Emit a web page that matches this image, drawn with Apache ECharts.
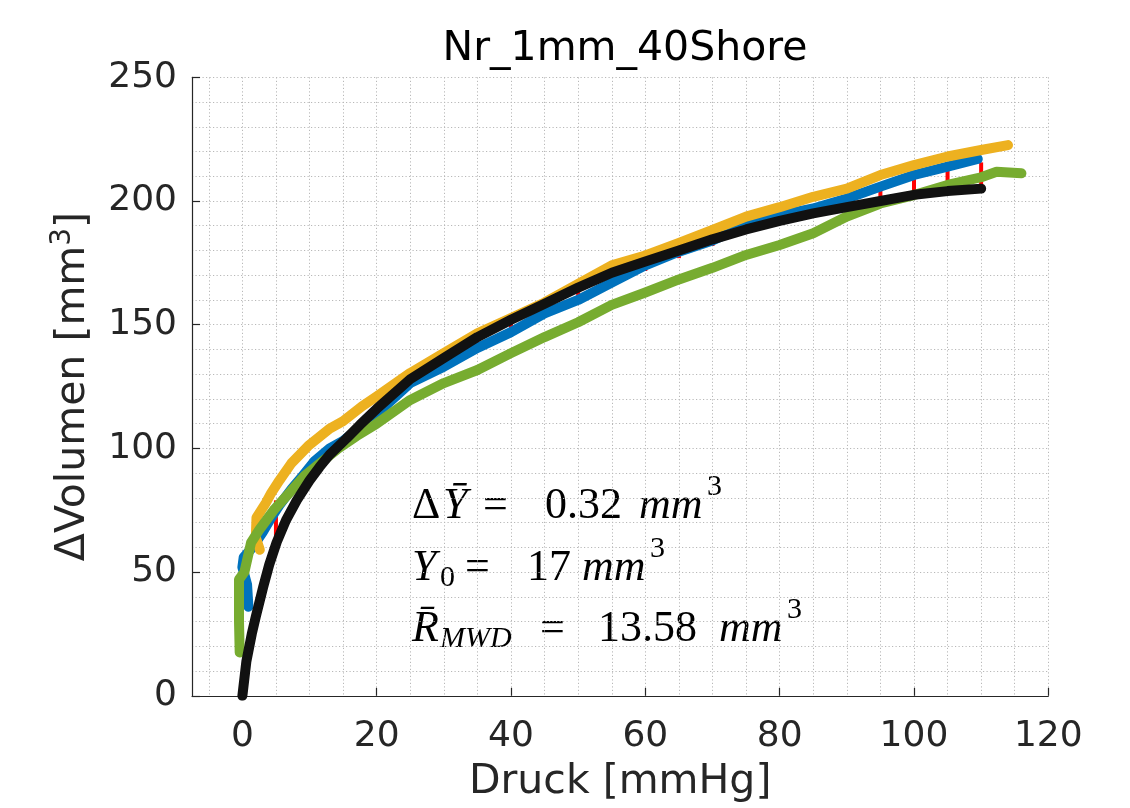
<!DOCTYPE html>
<html><head><meta charset="utf-8">
<script src="https://cdn.jsdelivr.net/npm/echarts@6/dist/echarts.min.js"></script>
<style>html,body{margin:0;padding:0;background:#fff}#c{width:1130px;height:808px}</style>
</head><body><div id="c"></div>
<script>
// ---- data ----
const blueX = [0.9,0.7,0,0.2,1.5,3,4.3,5.5,7.3,9,10.8,13,15,20,25,30,35,40,45,50,55,60,65,70,75,80,85,90,95,100,105,109.5];
const blueY = [36,45,52,56,60,66,72,77,83.5,89,95,100,103,114,126.4,133,140.6,147,154.6,160,167,174,179.5,184,190.3,194.3,197,201,205.8,210.5,213.9,217];
const yellowX = [2.6,2.0,2.1,3.5,4.3,5.5,7.3,9.8,13,15,17.8,20,25,30,35,40,45,50,55,60,65,70,75,80,85,90,95,100,105,110,114];
const yellowY = [59,64,72,78,82,87,94,101,108,111,117,121,130.5,138.5,146.5,152.7,159,166.5,174,178,183,188.3,193.7,197.5,201.7,205,210.5,214.5,218,220.6,222.6];
const greenX = [-0.4,-0.5,-0.5,0.3,1.3,2.5,4.8,7,9.3,12,14.3,17,20,25,30,35,40,45,50,55,60,65,70,75,80,85,90,95,100,105,110,112.3,116];
const greenY = [17.5,30,47,50,62,67,75.5,82,89,95,100,105,110,119.6,126.4,131.7,138.5,145,151,158,163,168.3,173,178.2,182.2,187,193.7,199,202.4,206.5,209.6,211.8,211.2];
const fitX = [0,0.6,1.4,2,3.1,4,5.1,6.5,8.1,10,11.5,13,15.5,17.5,20,25,30,35,40,45,50,55,60,65,70,75,80,85,90,95,100,105,110];
const fitY = [0,14,25,32,44,53,62,71,79,87,92.5,97.5,104,109.5,116,128,136.5,145,152,158.5,165,171,175.5,180,184.5,188.5,192,195,197.5,200,202.5,204,205];
const errX = [5,10,15,20,25,30,35,40,45,50,55,60,65,70,75,80,85,90,95,100,105,110];
const errFit = [62,87,104,116,128,136.5,145,152,158.5,165,171,175.5,180,184.5,188.5,192,195,197.5,200,202.5,204,205];
const errMean = [79,94.3,104.7,115,125.5,132.6,139.6,146,152.9,159.2,166.7,171.7,176.9,181.8,187.4,191.3,195.2,199.9,205.1,209.1,212.8,215.6];
const xMajorTicks = [0,20,40,60,80,100,120];
const xGridTicks = [-5,0,5,10,15,20,25,30,35,40,45,50,55,60,65,70,75,80,85,90,95,100,105,110,115,120];

const zip = (a,b) => a.map((v,i)=>[v,b[i]]);
const AX = '#262626';
const GRID = {color:'#b8b8b8', width:1, type:[1.2,2.3]};
const SANS = 'DejaVu Sans';
const SERIF = 'Liberation Serif';

const chart = echarts.init(document.getElementById('c'), null, {renderer:'canvas'});
const lineSeries = (data, color, w) => ({
  type:'line', data, showSymbol:false, symbol:'none', smooth:false, animation:false,
  lineStyle:{color, width:w, cap:'round', join:'round'}, xAxisIndex:0, yAxisIndex:0
});

const FS = 44;
const base = {fontFamily:SERIF, fontSize:FS, lineHeight:50, color:'#000'};
const it = Object.assign({}, base, {fontStyle:'italic'});
const sup = {fontFamily:SERIF, fontSize:30, height:12, verticalAlign:'top', color:'#000'};
const sub = {fontFamily:SERIF, fontSize:30, height:30, verticalAlign:'bottom', color:'#000'};
const rich = {
  d: Object.assign({}, base, {width:31}),
  yb: Object.assign({}, it, {width:40}),
  e1: Object.assign({}, base, {width:62}),
  n1: Object.assign({}, base, {width:94}),
  m1: Object.assign({}, it, {width:68}),
  s: sup,
  y2: Object.assign({}, it, {width:28}),
  b0: Object.assign({}, sub, {width:25}),
  e2: Object.assign({}, base, {width:62}),
  n2: Object.assign({}, base, {width:55}),
  m2: Object.assign({}, it, {width:68}),
  r3: Object.assign({}, it, {width:28}),
  bm: Object.assign({}, sub, {fontStyle:'italic', width:100}),
  e3: Object.assign({}, base, {width:58}),
  n3: Object.assign({}, base, {width:121}),
  m3: Object.assign({}, it, {width:68})
};

chart.setOption({
  animation:false,
  backgroundColor:'#fff',
  title:{text:'Nr_1mm_40Shore', left:620, textAlign:'center', top:24,
    textStyle:{fontFamily:SANS, fontSize:41, fontWeight:'normal', color:'#000'}},
  grid:{left:192, right:81.7, top:77.3, bottom:112.2, containLabel:false},
  xAxis:[
    {type:'value', min:-7.5, max:120, position:'bottom',
     axisLine:{show:true, onZero:false, lineStyle:{color:AX, width:1.2}},
     axisTick:{show:true, inside:true, length:8, customValues:xMajorTicks, lineStyle:{color:AX, width:1.2}},
     axisLabel:{customValues:xMajorTicks, fontFamily:SANS, fontSize:36, color:AX, margin:23},
     splitLine:{show:false},
     name:'Druck [mmHg]', nameLocation:'middle', nameGap:66,
     nameTextStyle:{fontFamily:SANS, fontSize:41, color:AX}},
    {type:'value', min:-7.5, max:120, position:'bottom',
     axisLine:{show:false, onZero:false}, axisTick:{show:false, customValues:xGridTicks},
     axisLabel:{show:false}, splitLine:{show:true, lineStyle:GRID}}
  ],
  yAxis:{type:'value', min:0, max:250, interval:50, position:'left',
    axisLine:{show:true, onZero:false, lineStyle:{color:AX, width:1.2}},
    axisTick:{show:true, inside:true, length:8, lineStyle:{color:AX, width:1.2}},
    axisLabel:{fontFamily:SANS, fontSize:36, color:AX, margin:15},
    splitLine:{show:true, lineStyle:GRID},
    minorTick:{show:false, splitNumber:5},
    minorSplitLine:{show:true, lineStyle:GRID},
    name:'{a|ΔVolumen [mm}{s|3}{a|]}', nameLocation:'middle', nameGap:95, nameRotate:90,
    nameTextStyle:{fontFamily:SANS, fontSize:41, color:AX,
      rich:{a:{fontFamily:SANS, fontSize:41, lineHeight:48, color:AX},
            s:{fontFamily:SANS, fontSize:28, lineHeight:7, verticalAlign:'top', color:AX}}}
  },
  series:[
    lineSeries(zip(blueX, blueY), '#0072BD', 10),
    lineSeries(zip(yellowX, yellowY), '#EDB120', 10),
    lineSeries(zip(greenX, greenY), '#77AC30', 10),
    {type:'custom', xAxisIndex:0, yAxisIndex:0, animation:false,
     data: errX.map((x,i)=>[x, errFit[i], errMean[i]]),
     encode:{x:0, y:[1,2]},
     renderItem:(params, api)=>{
       const p1 = api.coord([api.value(0), api.value(1)]);
       const p2 = api.coord([api.value(0), api.value(2)]);
       return {type:'line', shape:{x1:p1[0], y1:p1[1], x2:p2[0], y2:p2[1]},
               style:{stroke:'#ff0000', lineWidth:4}};
     }},
    lineSeries(zip(fitX, fitY), '#111111', 10)
  ],
  graphic:[
    {type:'text', x:412, y:506, silent:true, style:{text:'{d|Δ}{yb|Ȳ}{e1|=}{n1|0.32}{m1|mm}{s|3}', verticalAlign:'middle', rich}},
    {type:'text', x:412, y:568, silent:true, style:{text:'{y2|Y}{b0|0}{e2|=}{n2|17}{m2|mm}{s|3}', verticalAlign:'middle', rich}},
    {type:'text', x:412, y:629, silent:true, style:{text:'{r3|R\u0304}{bm|MWD}{e3|=}{n3|13.58}{m3|mm}{s|3}', verticalAlign:'middle', rich}}
  ]
});
</script>
</body></html>
